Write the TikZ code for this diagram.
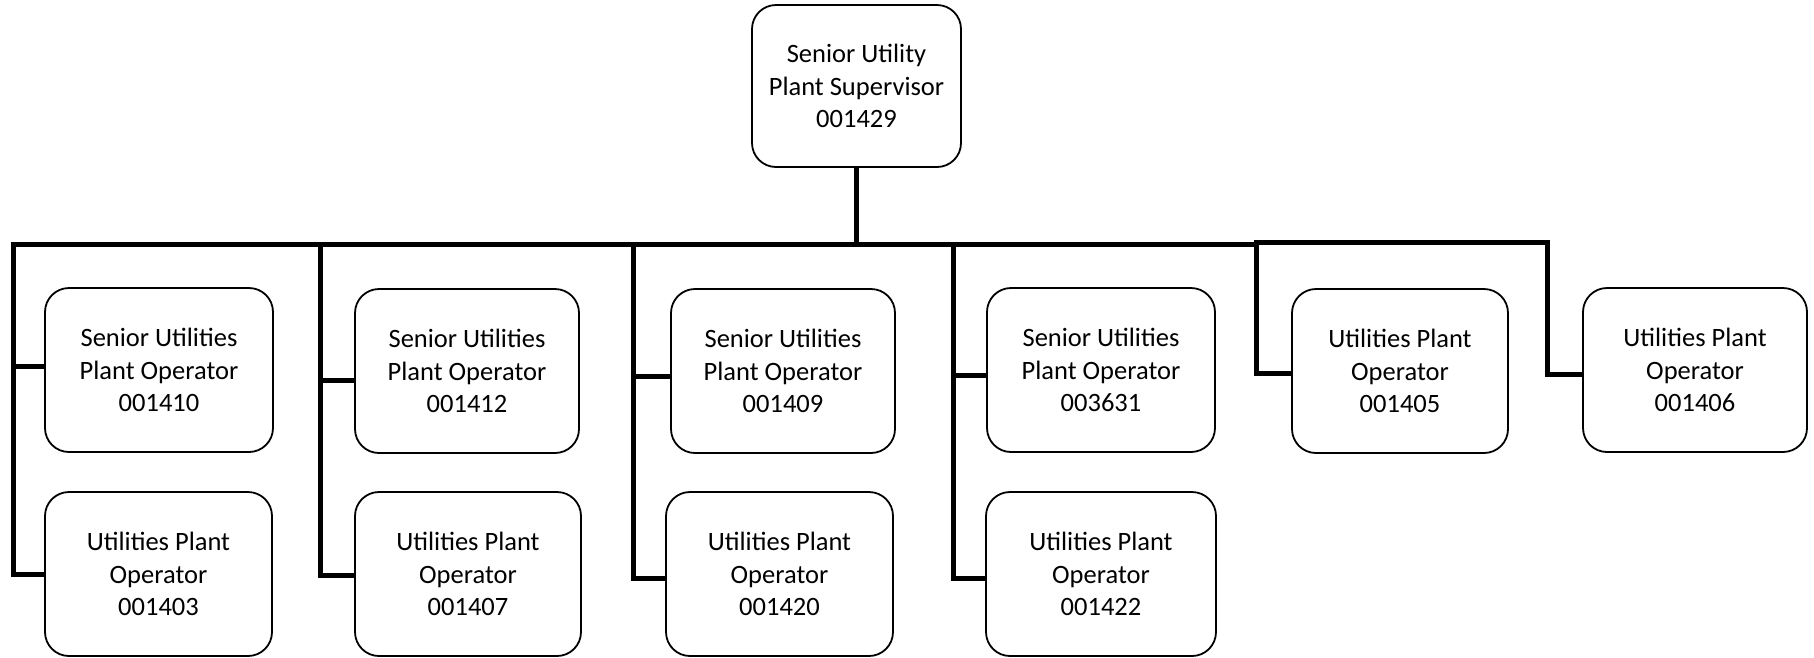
\documentclass[tikz,border=0pt]{standalone}
\usepackage{fontspec}
\setmainfont{Carlito}
\begin{document}
\begin{tikzpicture}[x=1pt,y=-1pt,
  box/.style={draw=black,line width=1.8pt,rounded corners=24pt,inner sep=0pt,
    align=center,font=\fontsize{26.5}{32.5}\selectfont,minimum height=164pt},
  bus/.style={line width=5pt,line cap=rect},
  link/.style={line width=5pt,line join=miter}]
\useasboundingbox (0,0) rectangle (1814,657);
% boxes
\node[box,minimum width=209pt,minimum height=162pt] (sup) at (856.5,86) {Senior Utility\\Plant Supervisor\\001429};
\node[box,minimum width=228pt] (a1) at (159,370) {Senior Utilities\\Plant Operator\\001410};
\node[box,minimum width=227pt] (a2) at (158.5,574) {Utilities Plant\\Operator\\001403};
\node[box,minimum width=224pt] (b1) at (467,371) {Senior Utilities\\Plant Operator\\001412};
\node[box,minimum width=226pt] (b2) at (468,574) {Utilities Plant\\Operator\\001407};
\node[box,minimum width=224pt] (c1) at (783,371) {Senior Utilities\\Plant Operator\\001409};
\node[box,minimum width=227pt] (c2) at (779.5,574) {Utilities Plant\\Operator\\001420};
\node[box,minimum width=228pt] (d1) at (1101,370) {Senior Utilities\\Plant Operator\\003631};
\node[box,minimum width=230pt] (d2) at (1101,574) {Utilities Plant\\Operator\\001422};
\node[box,minimum width=216pt] (e1) at (1400,371) {Utilities Plant\\Operator\\001405};
\node[box,minimum width=224pt] (f1) at (1695,370) {Utilities Plant\\Operator\\001406};
% bus taps
\coordinate (hub) at (856.5,244);
\coordinate (ta) at (13,244);
\coordinate (tb) at (320,244);
\coordinate (tc) at (633,244);
\coordinate (td) at (953,244);
\coordinate (te) at (1256,244);
\coordinate (te2) at (1256,242);
\coordinate (tf) at (1547,242);
% connectors
\draw[line width=5pt] (sup.south) -- (hub);
\draw[bus] (ta) -- (te);
\draw[bus] (te2) -- (tf);
\draw[link] (ta) |- ([yshift=4pt]a1.west);
\draw[link] (ta) |- (a2.west);
\draw[link] (tb) |- ([yshift=-9pt]b1.west);
\draw[link] (tb) |- ([yshift=-1pt]b2.west);
\draw[link] (tc) |- ([yshift=-5pt]c1.west);
\draw[link] (tc) |- ([yshift=-4pt]c2.west);
\draw[link] (td) |- ([yshift=-5pt]d1.west);
\draw[link] (td) |- ([yshift=-4pt]d2.west);
\draw[link] (te2) |- ([yshift=-2pt]e1.west);
\draw[link] (tf) |- ([yshift=-4pt]f1.west);
\end{tikzpicture}
\end{document}
